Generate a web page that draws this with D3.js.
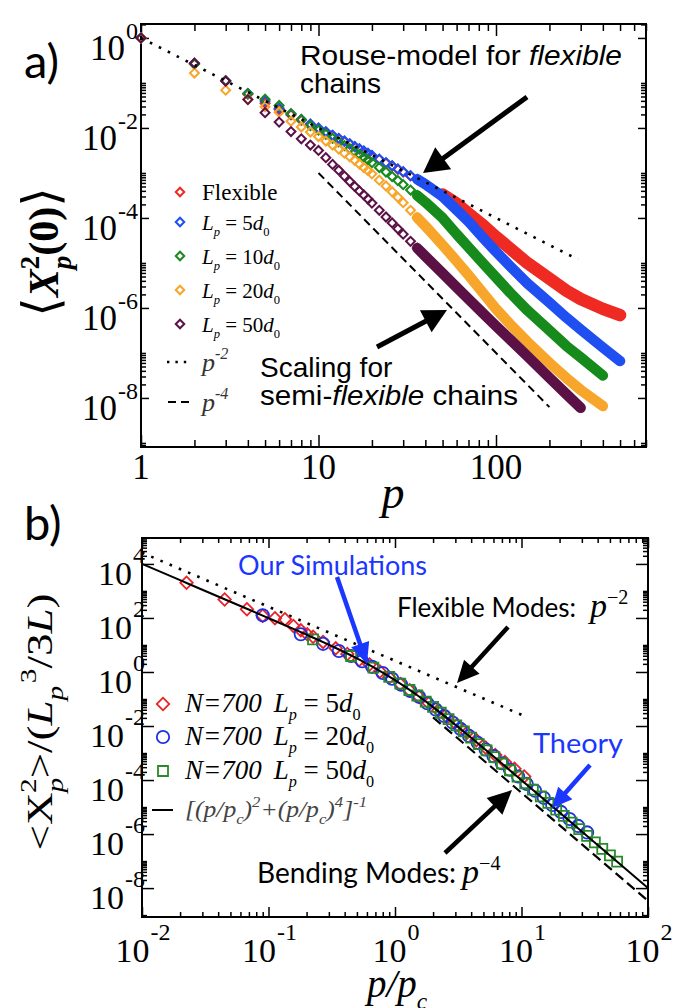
<!DOCTYPE html>
<html>
<head>
<meta charset="utf-8">
<title>Mode amplitudes of semiflexible chains</title>
<script src="https://d3js.org/d3.v7.min.js"></script>
<style>
  body { margin: 0; background: #fff; }
  svg { display: block; }
  .tick line { stroke: #000; stroke-width: 1.5; }
</style>
</head>
<body>
<script>
// ---------- panel a: <X_p^2(0)> vs p ----------
var pA = [1,2,3,4,5,6,7,8,9,10,11,12,13,14,15,16,17,18,19,20,22,24,26,28,30,33,36,40,
          50,60,70,85,100,120,150,200,250,300,400,500];
var flexibleA = [1,0.263,0.110,0.0562,0.0355,0.0257,0.0195,0.0148,0.0117,9.55e-3,7.94e-3,6.76e-3,5.75e-3,5.01e-3,
  4.37e-3,3.80e-3,3.39e-3,3.02e-3,2.69e-3,2.40e-3,2.00e-3,1.66e-3,1.41e-3,1.20e-3,1.05e-3,8.6e-4,7.1e-4,5.5e-4,
  3.3e-4,2.09e-4,1.26e-4,6.76e-5,3.80e-5,2.09e-5,1.00e-5,4.47e-6,2.40e-6,1.58e-6,9.55e-7,6.92e-7];
var lp5A = [1,0.275,0.112,0.0589,0.0398,0.0275,0.0204,0.0155,0.0123,0.0100,8.32e-3,6.92e-3,5.89e-3,5.13e-3,
  4.47e-3,3.89e-3,3.47e-3,3.09e-3,2.75e-3,2.45e-3,2.04e-3,1.70e-3,1.45e-3,1.23e-3,1.07e-3,8.71e-4,7.24e-4,5.62e-4,
  3.02e-4,1.51e-4,8.32e-5,3.55e-5,1.78e-5,8.51e-6,3.55e-6,1.32e-6,6.03e-7,3.31e-7,1.32e-7,6.61e-8];
var lp10A = [1,0.263,0.112,0.0575,0.0437,0.0316,0.0209,0.0155,0.0112,8.91e-3,7.24e-3,5.89e-3,4.90e-3,4.07e-3,
  3.47e-3,2.95e-3,2.57e-3,2.24e-3,1.95e-3,1.70e-3,1.32e-3,1.05e-3,8.32e-4,6.76e-4,5.50e-4,4.17e-4,3.16e-4,2.24e-4,
  1.00e-4,4.37e-5,2.24e-5,9.55e-6,4.79e-6,2.19e-6,8.91e-7,3.16e-7,1.41e-7,7.94e-8,3.16e-8,null];
var lp20A = [1,0.166,0.0692,0.0437,0.0295,0.0224,0.0141,0.0105,8.13e-3,6.46e-3,5.13e-3,4.17e-3,3.39e-3,2.75e-3,
  2.29e-3,1.91e-3,1.58e-3,1.32e-3,1.12e-3,9.55e-4,6.92e-4,5.13e-4,3.80e-4,2.88e-4,2.19e-4,1.48e-4,1.02e-4,6.61e-5,
  2.51e-5,1.10e-5,5.37e-6,2.09e-6,9.55e-7,4.37e-7,1.78e-7,6.03e-8,2.75e-8,1.51e-8,6.61e-9,null];
var lp50A = [1,0.275,0.110,0.0427,0.0219,0.0135,8.32e-3,5.75e-3,4.17e-3,3.16e-3,2.19e-3,1.55e-3,1.15e-3,8.51e-4,
  6.46e-4,5.01e-4,3.98e-4,3.24e-4,2.63e-4,2.14e-4,1.48e-4,1.05e-4,7.76e-5,5.75e-5,4.37e-5,3.02e-5,2.14e-5,1.41e-5,
  5.89e-6,2.88e-6,1.58e-6,7.41e-7,3.98e-7,2.00e-7,8.51e-8,2.82e-8,1.20e-8,6.03e-9,null,null];
var namesA = ["Flexible", "5", "10", "20", "50"];
var colorsA = ["#ef2a22", "#1f4ff0", "#178a1c", "#f8a52b", "#5c1146"];
var rouseP = [1, 290], rouseV = [1, 1.19e-5];        // p^-2 guide
var bendP = [10, 200], bendV = [1e-3, 6.25e-9];       // p^-4 guide
var xTicksA = [1, 10, 100], xLabelsA = ["1", "10", "100"];
var yTicksA = [1, 1e-2, 1e-4, 1e-6, 1e-8], yExpA = ["0", "-2", "-4", "-6", "-8"];

// ---------- panel b: scaled amplitudes vs p/p_c ----------
var redX = [0.0225,0.045,0.0675,0.09,0.1125,0.135,0.1575,0.18,0.2025,0.225,0.27,0.34,0.42,0.52,0.63,0.76,0.9,
  1.1,1.3,1.55,1.85,2.2,2.6,3.1,3.7,4.4,5.2,6.2,7.4,8.8,10.5];
var redV = [2000,480,210,120,98,90,50,35,25,20,13,7.5,4.6,2.8,1.9,1.05,0.62,0.36,0.21,0.12,0.07,0.038,0.021,
  0.011,5.6e-3,3.0e-3,1.6e-3,8.5e-4,4.6e-4,2.6e-4,1.35e-4];
var blueX = [0.09,0.18,0.27,0.36,0.45,0.55,0.66,0.8,0.95,1.12,1.32,1.55,1.8,2.1,2.45,2.85,3.3,3.85,4.5,5.2,6.0,
  7.0,8.1,9.4,11,12.8,15,17.5,20.5,24,28,33];
var blueV = [125,25,11,6.0,3.9,2.5,1.55,0.92,0.56,0.34,0.20,0.12,0.07,0.041,0.0235,0.0135,7.8e-3,4.3e-3,2.4e-3,
  1.35e-3,7.7e-4,4.2e-4,2.4e-4,1.35e-4,7.2e-5,4.0e-5,2.2e-5,1.2e-5,6.6e-6,3.6e-6,2.0e-6,1.15e-6];
var greenX = [0.225,0.45,0.675,0.9,1.1,1.3,1.5,1.75,2.0,2.3,2.65,3.05,3.5,4.0,4.6,5.3,6.1,7.0,8.1,9.3,10.7,12.3,
  14.2,16.3,18.8,21.6,24.9,28.6,33,38,43.5,50,57];
var greenV = [16,3.9,1.45,0.66,0.37,0.215,0.135,0.08,0.051,0.031,0.018,0.0106,6.3e-3,3.7e-3,2.15e-3,1.25e-3,
  7.1e-4,4.1e-4,2.3e-4,1.33e-4,7.6e-5,4.4e-5,2.5e-5,1.42e-5,8.1e-6,4.7e-6,2.65e-6,1.52e-6,8.6e-7,4.9e-7,2.85e-7,
  1.62e-7,9.6e-8];
var theoryX = [0.01,0.02,0.05,0.1,0.2,0.3,0.5,0.7,1,1.5,2,3,5,7,10,20,50,100];
var theoryV = [1.0e4,2.5e3,399,99,24.0,10.2,3.2,1.37,0.5,0.137,0.05,0.0111,1.54e-3,4.08e-4,9.9e-5,6.23e-6,1.6e-7,1.0e-8];
var flexBX = [0.01, 10], flexBV = [2.6e4, 2.6e-2];
var bendBX = [2.0, 100], bendBV = [2.1e-2, 3.4e-9];
var namesB = ["5", "20", "50"];
var colorsB = ["#e8242a", "#1f2fe6", "#2a8a2a"];
var xTicksB = [1e-2, 1e-1, 1, 10, 100], xExpB = ["-2", "-1", "0", "1", "2"];
var yTicksB = [1e4, 1e2, 1, 1e-2, 1e-4, 1e-6, 1e-8], yExpB = ["4", "2", "0", "-2", "-4", "-6", "-8"];

var serif = '"Liberation Serif", "Times New Roman", serif';
var sans = '"Liberation Sans", Arial, sans-serif';
var cal = 'Lato, "Open Sans", sans-serif';
var annBlue = "#1a36ff";

var svg = d3.select("body").append("svg").attr("width", 673).attr("height", 1008);

// text with sub/superscripts
function rich(t, parts, fs) {
  var cur = 0;
  parts.forEach(function(p) {
    var off = p.s === "sub" ? fs * 0.3 : p.s === "sup" ? -fs * 0.45 : 0;
    var ts = t.append("tspan").attr("dy", off - cur).text(p.t);
    cur = off;
    if (p.s) ts.attr("font-size", fs * (p.k || 0.65));
    if (p.fs) ts.attr("font-size", p.fs);
    if (p.i) ts.attr("font-style", "italic");
    if (p.b) ts.attr("font-weight", "bold");
    if (p.f) ts.attr("font-family", p.f);
    if (p.dx) ts.attr("dx", p.dx);
  });
  return t;
}

function decadeTicks(domain, evenOnly) {
  var lo = Math.floor(Math.log10(domain[0])), hi = Math.ceil(Math.log10(domain[1]));
  var out = [];
  for (var e = lo; e <= hi; e++) {
    if (evenOnly && e % 2 !== 0) continue;
    for (var k = 2; k <= (evenOnly ? 10 : 9); k++) {
      var v = k * Math.pow(10, e);
      if (v >= domain[0] * 0.999 && v <= domain[1] * 1.001) out.push(v);
    }
  }
  return out;
}

// frame + inward ticks on all four sides
function frame(g, x, y, xMaj, yMaj, xLen, yLen) {
  var x0 = x.range()[0], x1 = x.range()[1], y0 = y.range()[0], y1 = y.range()[1];
  var xMin = decadeTicks(x.domain(), false), yMin = decadeTicks(y.domain(), true);
  [[xMin, xLen[1]], [xMaj, xLen[0]]].forEach(function(s) {
    g.append("g").attr("transform", "translate(0," + y0 + ")")
      .call(d3.axisBottom(x).tickValues(s[0]).tickSize(-s[1]).tickFormat(""));
    g.append("g").attr("transform", "translate(0," + y1 + ")")
      .call(d3.axisTop(x).tickValues(s[0]).tickSize(-s[1]).tickFormat(""));
  });
  [[yMin, yLen[1]], [yMaj, yLen[0]]].forEach(function(s) {
    g.append("g").attr("transform", "translate(" + x0 + ",0)")
      .call(d3.axisLeft(y).tickValues(s[0]).tickSize(-s[1]).tickFormat(""));
    g.append("g").attr("transform", "translate(" + x1 + ",0)")
      .call(d3.axisRight(y).tickValues(s[0]).tickSize(-s[1]).tickFormat(""));
  });
  g.selectAll(".domain").remove();
  g.append("rect").attr("x", x0).attr("y", y1).attr("width", x1 - x0).attr("height", y0 - y1)
    .attr("fill", "none").attr("stroke", "#000").attr("stroke-width", 2);
}

function arrow(g, x1, y1, x2, y2, color, w, hl, hw) {
  var dx = x2 - x1, dy = y2 - y1, L = Math.hypot(dx, dy), ux = dx / L, uy = dy / L;
  var bx = x2 - ux * hl, by = y2 - uy * hl;
  g.append("line").attr("x1", x1).attr("y1", y1).attr("x2", bx + ux * 2).attr("y2", by + uy * 2)
    .attr("stroke", color).attr("stroke-width", w);
  g.append("path").attr("fill", color)
    .attr("d", "M" + x2 + "," + y2 + "L" + (bx - uy * hw / 2) + "," + (by + ux * hw / 2) +
      "L" + (bx + uy * hw / 2) + "," + (by - ux * hw / 2) + "Z");
}

function lpParts(num) {
  return [{t: "L", i: 1}, {t: "p", s: "sub", i: 1, k: 0.6}, {t: " = " + num}, {t: "d", i: 1},
          {t: "0", s: "sub", k: 0.6}];
}

// ================= PANEL A =================
var xA = d3.scaleLog().domain([1, 700]).range([141, 646]);
var yA = d3.scaleLog().domain([Math.pow(10, -9.09), Math.pow(10, 0.31)]).range([447, 24]);
var gA = svg.append("g");

frame(gA, xA, yA, xTicksA, yTicksA, [12, 7], [8, 5]);

var seriesA = [flexibleA, lp5A, lp10A, lp20A, lp50A];
var diamond = d3.symbol().type(d3.symbolSquare).size(40);
var band = d3.line().defined(function(d) { return d[1] != null; })
  .x(function(d) { return xA(d[0]); }).y(function(d) { return yA(d[1]); });

seriesA.forEach(function(vals, i) {
  var pts = pA.map(function(p, j) { return [p, vals[j]]; });
  var from = i === 0 ? 50 : 36;
  gA.append("path").datum(pts.filter(function(d) { return d[0] >= from && d[1] != null; }))
    .attr("d", band).attr("fill", "none").attr("stroke", colorsA[i])
    .attr("stroke-width", i === 0 ? 12.5 : 10.5).attr("stroke-linecap", "round").attr("stroke-linejoin", "round");
  gA.selectAll(null).data(pts.filter(function(d) { return d[0] <= 40 && d[1] != null; }))
    .enter().append("path").attr("d", diamond)
    .attr("transform", function(d) { return "translate(" + xA(d[0]) + "," + yA(d[1]) + ") rotate(45)"; })
    .attr("fill", "none").attr("stroke", colorsA[i]).attr("stroke-width", 2);
});

var guide = function(xs, ys, xsc, ysc) {
  return d3.line().x(function(d) { return xsc(d[0]); }).y(function(d) { return ysc(d[1]); })(
    xs.map(function(v, j) { return [v, ys[j]]; }));
};
gA.append("path").attr("d", guide(rouseP, rouseV, xA, yA)).attr("fill", "none").attr("stroke", "#000")
  .attr("stroke-width", 2.6).attr("stroke-dasharray", "2.6,7.4");
gA.append("path").attr("d", guide(bendP, bendV, xA, yA)).attr("fill", "none").attr("stroke", "#000")
  .attr("stroke-width", 2).attr("stroke-dasharray", "8,5");

// tick labels
xTicksA.forEach(function(v, i) {
  gA.append("text").attr("x", xA(v)).attr("y", 479).attr("text-anchor", "middle")
    .attr("font-family", serif).attr("font-size", 35).text(xLabelsA[i]);
});
yTicksA.forEach(function(v, i) {
  var t = gA.append("text").attr("x", 138).attr("y", yA(v) + 22).attr("text-anchor", "end")
    .attr("font-family", serif).attr("font-size", 35);
  rich(t, [{t: "10"}, {t: yExpA[i], s: "sup", fs: 24, dx: 1}], 46);
});

// legend
var legRowsA = [192, 222, 256, 290, 324];
namesA.forEach(function(name, i) {
  gA.append("path").attr("d", d3.symbol().type(d3.symbolSquare).size(36))
    .attr("transform", "translate(180," + legRowsA[i] + ") rotate(45)")
    .attr("fill", "none").attr("stroke", colorsA[i]).attr("stroke-width", 2);
  var t = gA.append("text").attr("x", 202).attr("y", legRowsA[i] + 8)
    .attr("font-family", serif).attr("font-size", i === 0 ? 23 : 21);
  if (i === 0) t.text(name); else rich(t, lpParts(name), 21);
});
gA.append("line").attr("x1", 167).attr("x2", 192).attr("y1", 362).attr("y2", 362)
  .attr("stroke", "#000").attr("stroke-width", 2.4).attr("stroke-dasharray", "2.4,6");
gA.append("line").attr("x1", 168).attr("x2", 191).attr("y1", 402).attr("y2", 402)
  .attr("stroke", "#000").attr("stroke-width", 2).attr("stroke-dasharray", "8,5");
rich(gA.append("text").attr("x", 202).attr("y", 371).attr("font-family", serif).attr("font-size", 26).attr("fill", "#333"),
  [{t: "p", i: 1}, {t: "-2", s: "sup", i: 1, k: 0.62}], 26);
rich(gA.append("text").attr("x", 202).attr("y", 411).attr("font-family", serif).attr("font-size", 26).attr("fill", "#333"),
  [{t: "p", i: 1}, {t: "-4", s: "sup", i: 1, k: 0.62}], 26);

// annotations
var ann = gA.append("g").attr("font-family", sans).attr("font-size", 28).attr("fill", "#000");
ann.append("text").attr("x", 300).attr("y", 65).attr("textLength", 322).attr("lengthAdjust", "spacingAndGlyphs")
  .call(function(t) { t.append("tspan").text("Rouse-model for "); t.append("tspan").attr("font-style", "italic").text("flexible"); });
ann.append("text").attr("x", 300).attr("y", 93).text("chains");
ann.append("text").attr("x", 260).attr("y", 377).text("Scaling for");
ann.append("text").attr("x", 260).attr("y", 405).attr("textLength", 258).attr("lengthAdjust", "spacingAndGlyphs")
  .call(function(t) { t.append("tspan").text("semi-"); t.append("tspan").attr("font-style", "italic").text("flexible");
    t.append("tspan").text(" chains"); });
arrow(gA, 527, 97, 423, 173, "#000", 5, 25, 27);
arrow(gA, 377, 347, 447, 310, "#000", 5, 24, 25);

// axis labels
gA.append("text").attr("x", 393).attr("y", 508).attr("text-anchor", "middle")
  .attr("font-family", serif).attr("font-style", "italic").attr("font-size", 46).text("p");
rich(gA.append("text").attr("transform", "translate(58,252) rotate(-90)").attr("text-anchor", "middle")
  .attr("font-family", serif).attr("font-size", 42),
  [{t: "\u27E8", f: "DejaVu Serif", fs: 50}, {t: "X", i: 1, b: 1}, {t: "p", s: "sub", i: 1, b: 1},
   {t: "2", s: "sup", b: 1, dx: -14}, {t: "(0)", b: 1}, {t: "\u27E9", f: "DejaVu Serif", fs: 50}], 42);
svg.append("text").attr("x", 24).attr("y", 78).attr("font-family", cal).attr("font-size", 47).text("a)");

// ================= PANEL B =================
var xB = d3.scaleLog().domain([1e-2, 1e2]).range([142, 648]);
var yB = d3.scaleLog().domain([Math.pow(10, -9.07), Math.pow(10, 4.96)]).range([917, 538]);
var gB = svg.append("g");

frame(gB, xB, yB, xTicksB, yTicksB, [10, 5], [12, 5]);

gB.append("path").attr("d", guide(flexBX, flexBV, xB, yB)).attr("fill", "none").attr("stroke", "#000")
  .attr("stroke-width", 2.6).attr("stroke-dasharray", "2.6,7.4");
gB.append("path").attr("d", guide(bendBX, bendBV, xB, yB)).attr("fill", "none").attr("stroke", "#000")
  .attr("stroke-width", 2.2).attr("stroke-dasharray", "10,5");

var markersB = [
  {xs: redX, vs: redV, sym: d3.symbol().type(d3.symbolSquare).size(78), rot: 45},
  {xs: blueX, vs: blueV, sym: d3.symbol().type(d3.symbolCircle).size(120), rot: 0},
  {xs: greenX, vs: greenV, sym: d3.symbol().type(d3.symbolSquare).size(100), rot: 0}
];
markersB.forEach(function(m, i) {
  gB.selectAll(null).data(m.xs.map(function(x, j) { return [x, m.vs[j]]; }))
    .enter().append("path").attr("d", m.sym)
    .attr("transform", function(d) { return "translate(" + xB(d[0]) + "," + yB(d[1]) + ") rotate(" + m.rot + ")"; })
    .attr("fill", "none").attr("stroke", colorsB[i]).attr("stroke-width", 1.8);
});
gB.append("path").datum(theoryX.map(function(x, j) { return [x, theoryV[j]]; }))
  .attr("d", d3.line().curve(d3.curveMonotoneX).x(function(d) { return xB(d[0]); }).y(function(d) { return yB(d[1]); }))
  .attr("fill", "none").attr("stroke", "#000").attr("stroke-width", 2);

// tick labels
xTicksB.forEach(function(v, i) {
  var t = gB.append("text").attr("x", xB(v) + 1).attr("y", 962).attr("text-anchor", "middle")
    .attr("font-family", serif).attr("font-size", 34);
  rich(t, [{t: "10"}, {t: xExpB[i], s: "sup", fs: 24, dx: 1}], 48);
});
yTicksB.forEach(function(v, i) {
  var t = gB.append("text").attr("x", 145).attr("y", yB(v) + 21).attr("text-anchor", "end")
    .attr("font-family", serif).attr("font-size", 34);
  rich(t, [{t: "10"}, {t: yExpB[i], s: "sup", fs: 24, dx: 1}], 48);
});

// legend
var legRowsB = [704, 737, 771];
namesB.forEach(function(name, i) {
  gB.append("path").attr("d", markersB[i].sym)
    .attr("transform", "translate(163," + legRowsB[i] + ") rotate(" + markersB[i].rot + ")")
    .attr("fill", "none").attr("stroke", colorsB[i]).attr("stroke-width", 1.8);
  var t = gB.append("text").attr("x", 185).attr("y", legRowsB[i] + 8).attr("font-family", serif).attr("font-size", 27);
  rich(t, [{t: "N=700", i: 1}, {t: "L", i: 1, dx: 12}, {t: "p", s: "sub", i: 1, k: 0.6}, {t: " = " + name},
           {t: "d", i: 1}, {t: "0", s: "sub", k: 0.6}], 27);
});
gB.append("line").attr("x1", 152).attr("x2", 173).attr("y1", 810).attr("y2", 810).attr("stroke", "#000").attr("stroke-width", 2);
rich(gB.append("text").attr("x", 185).attr("y", 817).attr("font-family", serif).attr("font-size", 23).attr("fill", "#444")
  .attr("font-style", "italic").attr("textLength", 182).attr("lengthAdjust", "spacingAndGlyphs"),
  [{t: "[(p/p"}, {t: "c", s: "sub"}, {t: ")"}, {t: "2", s: "sup"}, {t: "+(p/p"}, {t: "c", s: "sub"}, {t: ")"},
   {t: "4", s: "sup"}, {t: "]"}, {t: "-1", s: "sup"}], 23);

// annotations
var annB = gB.append("g").attr("font-family", cal).attr("font-size", 27);
annB.append("text").attr("x", 238).attr("y", 575).attr("fill", annBlue).attr("textLength", 189)
  .attr("lengthAdjust", "spacingAndGlyphs").text("Our Simulations");
annB.append("text").attr("x", 533).attr("y", 753).attr("fill", annBlue).attr("textLength", 90)
  .attr("lengthAdjust", "spacingAndGlyphs").text("Theory");
rich(annB.append("text").attr("x", 397).attr("y", 617).attr("fill", "#000").attr("font-size", 26),
  [{t: "Flexible Modes:"}, {t: "p", i: 1, f: serif, fs: 34, dx: 14}, {t: "\u22122", s: "sup", f: serif, k: 0.72}], 28);
rich(annB.append("text").attr("x", 257).attr("y", 883).attr("fill", "#000").attr("font-size", 28),
  [{t: "Bending Modes:"}, {t: "p", i: 1, f: serif, fs: 34, dx: 6}, {t: "\u22124", s: "sup", f: serif, k: 0.72}], 28);
arrow(gB, 337, 577, 367, 664, annBlue, 4.5, 21, 19);
arrow(gB, 508, 627, 457, 683, "#000", 4.5, 22, 21);
arrow(gB, 590, 765, 552, 808, annBlue, 4.5, 20, 19);
arrow(gB, 445, 853, 512, 790, "#000", 4.5, 24, 23);

// axis labels
rich(gB.append("text").attr("x", 367).attr("y", 997).attr("font-family", serif).attr("font-style", "italic")
  .attr("font-size", 39), [{t: "p/p"}, {t: "c", s: "sub", k: 0.6}], 39);
rich(gB.append("text").attr("transform", "translate(52,722) rotate(-90)").attr("text-anchor", "middle")
  .attr("font-family", serif).attr("font-size", 36).attr("textLength", 257).attr("lengthAdjust", "spacingAndGlyphs"),
  [{t: "<X"}, {t: "p", s: "sub", i: 1}, {t: "2", s: "sup", dx: -12}, {t: ">/("}, {t: "L", i: 1},
   {t: "p", s: "sub", i: 1}, {t: "3", s: "sup", dx: 2}, {t: "/3"}, {t: "L", i: 1}, {t: ")"}], 36);
svg.append("text").attr("x", 24).attr("y", 540).attr("font-family", cal).attr("font-size", 47).text("b)");
</script>
</body>
</html>
